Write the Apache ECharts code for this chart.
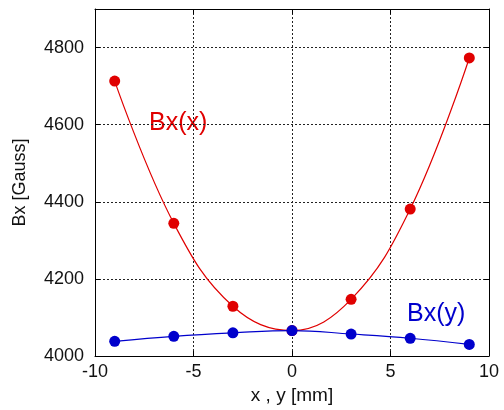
<!DOCTYPE html>
<html>
<head>
<meta charset="utf-8">
<script src="https://cdn.jsdelivr.net/npm/echarts@6/dist/echarts.min.js"></script>
<style>
  html, body { margin: 0; padding: 0; background: #fff; }
  #chart { width: 504px; height: 410px; }
</style>
</head>
<body>
<div id="chart"></div>
<script>
// positions in mm
const xPos = [-9, -6, -3, 0, 3, 6, 9]
// Bx measured along x and along y (Gauss)
const bxAlongX = [4713, 4344, 4129, 4066, 4147, 4381, 4773]
const bxAlongY = [4038, 4051, 4060, 4066, 4057, 4046, 4030]
const yTicks = [4000, 4200, 4400, 4600, 4800]

const red = '#e00000'
const blue = '#0000cc'
const font = 'Liberation Sans, Arial, sans-serif'

const toPairs = (xs, ys) => xs.map((x, i) => [x, ys[i]])

const gridLine = { show: true, lineStyle: { color: '#222', type: [2, 2], width: 1 } }
const mirrorAxis = {
  axisLine: { show: true, onZero: false, lineStyle: { color: '#000', width: 1 } },
  axisTick: { show: true, inside: true, length: 5, lineStyle: { color: '#000' } },
  axisLabel: { show: false },
  splitLine: { show: false }
}

const chart = echarts.init(document.getElementById('chart'))
chart.setOption({
  animation: false,
  grid: { left: 95, right: 15, top: 9, bottom: 51 },
  xAxis: [{
    type: 'value',
    min: -10, max: 10, interval: 5,
    name: 'x , y [mm]',
    nameLocation: 'middle',
    nameGap: 30,
    nameTextStyle: { fontFamily: font, fontSize: 19, color: '#111' },
    axisLine: { show: true, onZero: false, lineStyle: { color: '#000', width: 1 } },
    axisTick: { show: true, inside: true, length: 5, lineStyle: { color: '#000' } },
    axisLabel: { fontFamily: font, fontSize: 18, color: '#111', margin: 7 },
    splitLine: gridLine
  }, Object.assign({ type: 'value', min: -10, max: 10, interval: 5, position: 'top' }, mirrorAxis)],
  yAxis: [{
    type: 'value',
    min: 4000, max: 4900, interval: 200,
    name: 'Bx [Gauss]',
    nameLocation: 'middle',
    nameGap: 66,
    nameTextStyle: { fontFamily: font, fontSize: 18, color: '#111' },
    axisLine: { show: true, onZero: false, lineStyle: { color: '#000', width: 1 } },
    axisTick: { show: true, inside: true, length: 5, lineStyle: { color: '#000' } },
    axisLabel: {
      fontFamily: font, fontSize: 18, color: '#111', margin: 11,
      formatter: v => yTicks.includes(v) ? String(v) : ''
    },
    splitLine: gridLine
  }, Object.assign({ type: 'value', min: 4000, max: 4900, interval: 200, position: 'right' }, mirrorAxis)],
  series: [{
    name: 'Bx(x)',
    type: 'line',
    data: toPairs(xPos, bxAlongX),
    smooth: 0.4,
    symbol: 'circle',
    symbolSize: 11,
    itemStyle: { color: red },
    lineStyle: { color: red, width: 1.2 },
    z: 3
  }, {
    name: 'Bx(y)',
    type: 'line',
    data: toPairs(xPos, bxAlongY),
    smooth: 0.4,
    symbol: 'circle',
    symbolSize: 11,
    itemStyle: { color: blue },
    lineStyle: { color: blue, width: 1.2 },
    z: 4
  }],
  graphic: [{
    type: 'text', left: 149, top: 111,
    style: { text: 'Bx(x)', font: '25px ' + font, fill: red }
  }, {
    type: 'text', left: 407, top: 302,
    style: { text: 'Bx(y)', font: '25px ' + font, fill: blue }
  }]
})
</script>
</body>
</html>
